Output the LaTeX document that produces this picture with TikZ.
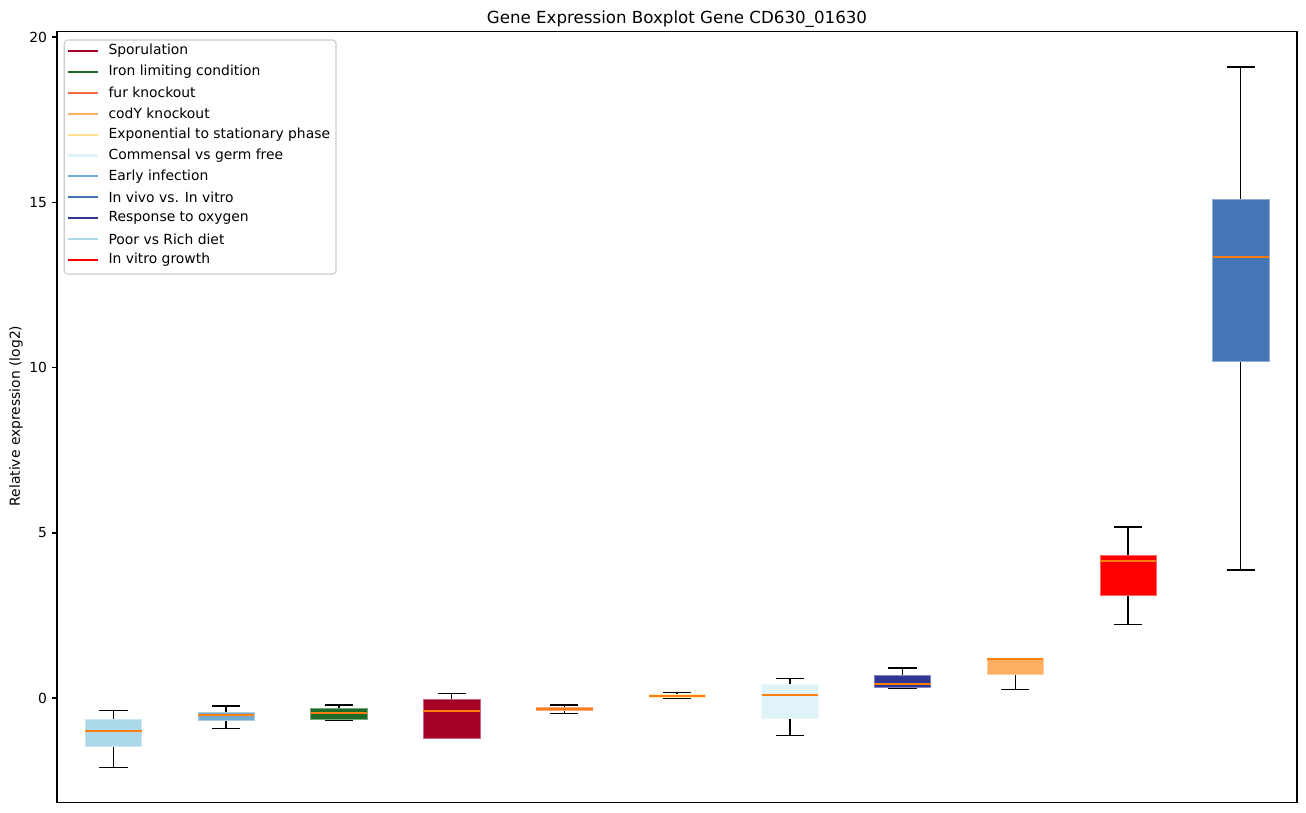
\documentclass[tikz,border=0pt]{standalone}
\usepackage{fontspec}
\setmainfont{DejaVu Sans}
\definecolor{cspor}{HTML}{A50026}
\definecolor{ciron}{HTML}{1E6B27}
\definecolor{cfur}{HTML}{F46D43}
\definecolor{ccody}{HTML}{FDAE61}
\definecolor{cexpo}{HTML}{FEE090}
\definecolor{ccomm}{HTML}{E0F3F8}
\definecolor{cearly}{HTML}{74ADD1}
\definecolor{cvivo}{HTML}{4575B4}
\definecolor{coxy}{HTML}{313695}
\definecolor{cpoor}{HTML}{ABD9E9}
\definecolor{cvitro}{HTML}{FF0000}
\definecolor{cmed}{HTML}{FF7F0E}
\newcommand\bxplot[7]{%
  % #1 center x, #2 upper cap, #3 box top, #4 median, #5 box bottom, #6 lower cap, #7 colour
  \draw[whisk] (#1,#2) -- (#1,#3);
  \draw[whisk] (#1,#5) -- (#1,#6);
  \draw[whisk] (#1-14.1,#2) -- (#1+14.1,#2);
  \draw[whisk] (#1-14.1,#6) -- (#1+14.1,#6);
  \fill[#7, draw=#7!60!white, line width=0.4pt] (#1-28.2,#3) rectangle (#1+28.2,#5);
  \draw[medline] (#1-28.2,#4) -- (#1+28.2,#4);
}
\tikzset{
  whisk/.style={black, line width=1pt},
  medline/.style={cmed, line width=1.3pt},
  spine/.style={black, line width=0.8pt},
  tickmark/.style={black, line width=0.8pt},
  ticklab/.style={anchor=east, font=\fontsize{10}{12}\selectfont, inner sep=0pt},
  legline/.style={line width=1.5pt},
  legtext/.style={anchor=west, font=\fontsize{10}{12}\selectfont, inner sep=0pt},
}
\begin{document}
\begin{tikzpicture}[x=0.72pt, y=-0.72pt]
\useasboundingbox (0,0) rectangle (1306,812);
\fill[white] (0,0) rectangle (1306,812);
% boxes
\bxplot{113.4}{710.3}{719}{731.3}{746.7}{767.3}{cpoor}
\bxplot{226.1}{706}{712.7}{715.3}{720}{728.7}{cearly}
\bxplot{338.9}{705}{708}{713.3}{719}{720.3}{ciron}
\bxplot{451.6}{693.3}{699}{711.3}{738}{738}{cspor}
\bxplot{564.3}{705}{707}{709}{710.7}{713.3}{cfur}
\bxplot{677.1}{692.3}{694}{695.7}{697.7}{698.3}{cexpo}
\bxplot{789.8}{678.3}{684.7}{695.3}{718}{735.3}{ccomm}
\bxplot{902.5}{668}{675.7}{684}{687}{688.3}{coxy}
\bxplot{1015.2}{659}{659}{659.3}{674.7}{689.3}{ccody}
\bxplot{1128}{527}{555}{561.3}{595}{624.3}{cvitro}
\bxplot{1240.7}{67}{199}{257.3}{361.7}{570}{cvivo}
% axes frame
\draw[spine] (57,31.5) rectangle (1297,802.3);
% y ticks
\foreach \v/\yy in {0/698, 5/533, 10/367.7, 15/202.3, 20/37} {
  \draw[tickmark] (57,\yy) -- (52.1,\yy);
  \node[ticklab] (t\v) at (47.3,\yy) {\v};
}
\node[rotate=90, font=\fontsize{10}{12}\selectfont, inner sep=0pt] (ylab) at (16,416) {Relative expression (log2)};
\node[anchor=base, font=\fontsize{12}{14}\selectfont, inner sep=0pt] (title) at (677,23.5) {Gene Expression Boxplot Gene CD630\_01630};
% legend
\draw[rounded corners=2.5pt, draw=black!20, fill=white, fill opacity=0.8, line width=0.8pt] (64.3,40) rectangle (336,274);
\foreach \c/\t [count=\i from 0] in {cspor/Sporulation, ciron/Iron limiting condition, cfur/fur knockout, ccody/codY knockout, cexpo/Exponential to stationary phase, ccomm/Commensal vs germ free, cearly/Early infection, cvivo/In vivo vs. In vitro, coxy/Response to oxygen, cpoor/Poor vs Rich diet, cvitro/In vitro growth} {
  \pgfmathsetmacro\ly{51+20.9*\i}
  \draw[legline, \c] (68,\ly) -- (98,\ly);
  \node[legtext] (leg\i) at (108.3,\ly) {\t};
}
\end{tikzpicture}
\end{document}
